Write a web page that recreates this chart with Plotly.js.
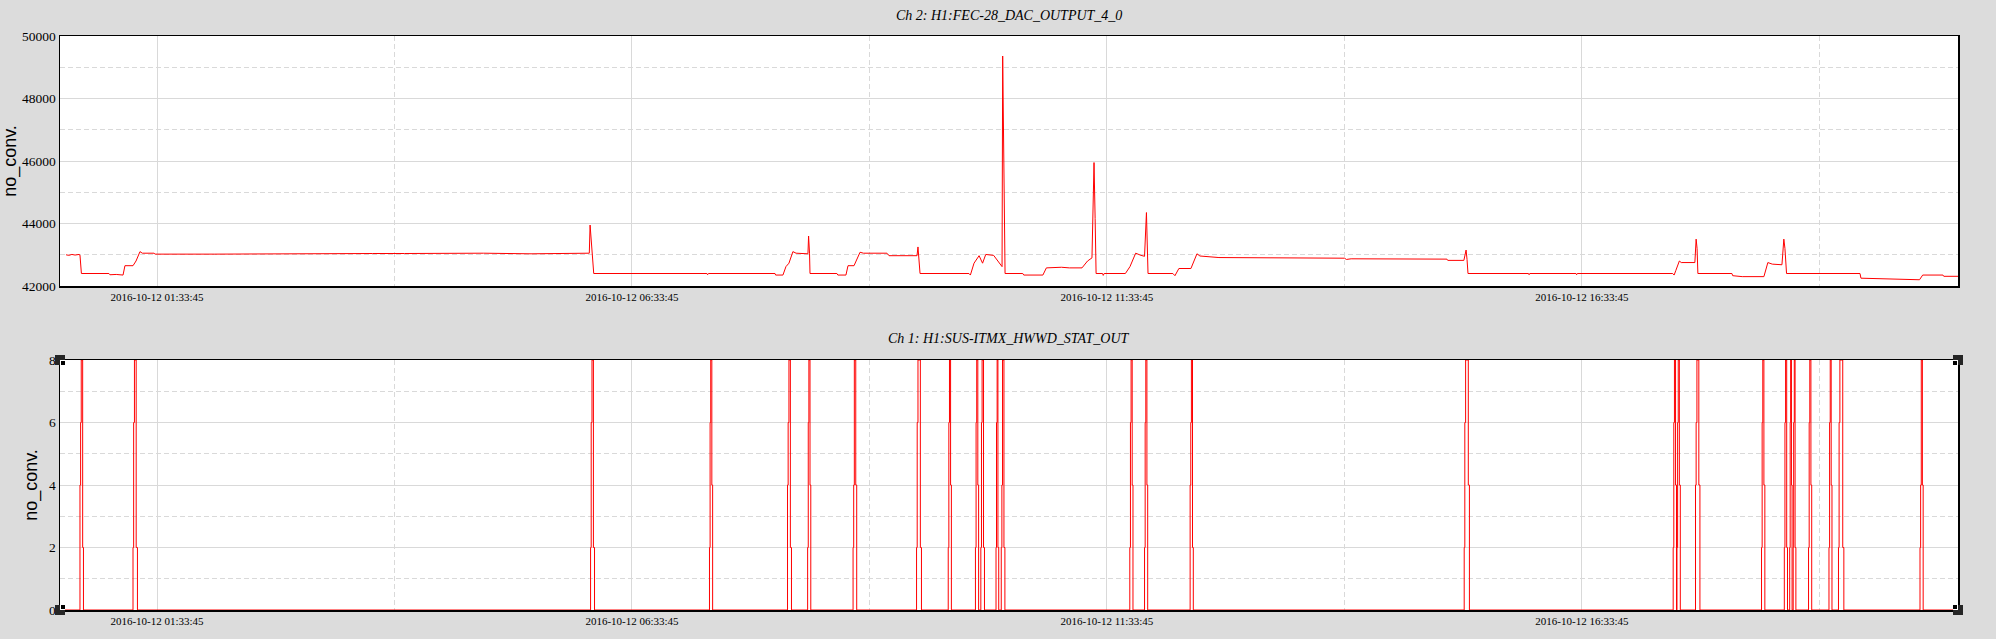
<!DOCTYPE html>
<html>
<head>
<meta charset="utf-8">
<script src="https://cdn.plot.ly/plotly-3.0.1.min.js"></script>
<style>
  html,body{margin:0;padding:0;background:#dcdcdc;}
  #chart{width:1996px;height:639px;}
</style>
</head>
<body>
<div id="chart"></div>
<script>
// ---- data (time as minutes after 2016-10-12 00:00:00) ----
const DAY = '2016-10-12';

const dacTitle = 'Ch 2: H1:FEC-28_DAC_OUTPUT_4_0';
const statTitle = 'Ch 1: H1:SUS-ITMX_HWWD_STAT_OUT';
const yUnit = 'no_conv.';

const dac_t = [36.3, 38.0, 40.0, 42.0, 44.5, 45.1, 46.0, 63.4, 64.0, 68.0, 72.3, 73.5, 78.6, 80.5, 83.0, 84.5, 91.9, 92.5,
  130, 160, 175, 200, 230, 250, 280, 300, 330, 364.1, 366.8, 367.3, 368.0, 368.6, 369.6,
  441.1, 441.5, 442.0, 484.1, 484.5, 489.1, 491.0, 492.9, 495.4, 497.4, 504.9, 505.3, 505.9, 506.2,
  523.2, 523.8, 528.9, 530.2, 534.0, 537.8, 540.0, 554.8, 556.1, 573.8, 574.4, 575.0, 575.7,
  606.6, 607.5, 609.8, 613.0, 615.2, 617.2, 622.2, 626.2, 627.5, 627.9, 628.4, 628.9, 629.4,
  640.6, 641.2, 653.3, 655.5, 665.0, 670.0, 678.0, 681.5, 684.3, 685.1, 685.6, 686.3, 686.9,
  691.0, 691.4, 692.0, 705.4, 708.3, 711.9, 715.3, 717.5, 718.7, 719.2, 719.7,
  735.4, 736.7, 739.2, 746.8, 750.6, 752.5, 764.5, 800.0, 843.8, 845.0, 848.0, 908.5, 909.0, 919.2,
  920.2, 920.6, 921.2, 921.8, 960.0, 960.4, 960.8, 990.0, 990.4, 990.8,
  1051.1, 1052.0, 1053.1, 1055.3, 1056.5, 1065.1, 1065.9, 1066.5, 1067.0,
  1088.5, 1089.0, 1095.0, 1108.7, 1111.2, 1114.0, 1120.1, 1121.3, 1122.0, 1123.0,
  1169.4, 1170.0, 1190.0, 1200.0, 1207.0, 1209.0, 1221.8, 1222.3, 1231.3];

const dac_v = [43000, 42980, 43010, 42990, 43010, 42990, 42400, 42400, 42360, 42370, 42350, 42650, 42650, 42800, 43100, 43050, 43050, 43020,
  43020, 43030, 43040, 43030, 43040, 43040, 43050, 43050, 43030, 43050, 43050, 43950, 43400, 42950, 42400,
  42400, 42360, 42400, 42400, 42350, 42350, 42620, 42730, 43100, 43050, 43030, 43600, 43050, 42400,
  42400, 42350, 42350, 42650, 42650, 43080, 43050, 43050, 42970, 42970, 43250, 42800, 42400,
  42400, 42350, 42730, 42970, 42730, 43010, 42980, 42730, 42620, 49360, 47580, 44170, 42400,
  42400, 42350, 42350, 42580, 42600, 42580, 42580, 42800, 42900, 45180, 45950, 44160, 42400,
  42400, 42340, 42400, 42400, 42620, 43050, 42980, 42950, 44350, 43370, 42400,
  42400, 42330, 42560, 42560, 43030, 42960, 42910, 42900, 42890, 42850, 42870, 42860, 42820, 42820,
  43000, 43150, 42850, 42400, 42400, 42360, 42400, 42400, 42360, 42400,
  42400, 42350, 42500, 42800, 42750, 42750, 43500, 43200, 42400,
  42400, 42330, 42300, 42300, 42750, 42700, 42680, 43500, 43200, 42400,
  42400, 42250, 42230, 42200, 42200, 42350, 42350, 42310, 42310];

const stat_t = [32.5,
  45.1, 45.5, 45.9, 46.8, 47.3,
  78.6, 79.0, 79.5, 80.6, 81.4,
  367.6, 368.0, 368.5, 369.4, 370.1,
  442.7, 443.1, 443.5, 444.2, 444.7,
  492.0, 492.4, 492.9, 493.8, 494.5,
  504.7, 505.1, 505.5, 506.2, 506.7,
  533.4, 533.8, 534.2, 535.1, 535.7,
  573.5, 573.9, 574.4, 575.9, 576.6,
  593.5, 593.9, 594.3, 595.0, 595.5,
  610.7, 611.1, 611.5, 612.2, 612.7,
  614.1, 614.5, 614.9, 615.8, 616.4,
  623.7, 624.0, 624.4, 624.9, 625.4,
  627.0, 627.4, 627.8, 628.7, 629.3,
  708.2, 708.6, 709.0, 709.7, 710.2,
  717.5, 717.9, 718.3, 719.0, 719.5,
  746.3, 746.7, 747.1, 747.8, 748.3,
  919.4, 919.8, 920.3, 922.0, 922.7,
  1051.4, 1051.8, 1052.2, 1052.9, 1053.5,
  1053.8, 1054.2, 1054.6, 1055.3, 1055.9,
  1065.5, 1065.9, 1066.4, 1067.6, 1068.3,
  1107.2, 1107.6, 1108.0, 1108.7, 1109.3,
  1121.6, 1122.0, 1122.4, 1123.1, 1123.6,
  1125.0, 1125.3, 1125.6, 1126.1, 1126.5,
  1127.2, 1127.5, 1127.9, 1128.4, 1128.9,
  1136.9, 1137.3, 1137.7, 1138.4, 1138.9,
  1149.8, 1150.2, 1150.6, 1151.2, 1151.7,
  1155.8, 1156.2, 1156.7, 1158.5, 1159.2,
  1207.3, 1207.7, 1208.1, 1208.8, 1209.3,
  1231.3];

const stat_v = [0,
  4, 6, 8, 2, 0,
  2, 6, 8, 2, 0,
  2, 6, 8, 2, 0,
  2, 6, 8, 4, 0,
  4, 6, 8, 2, 0,
  2, 6, 8, 4, 0,
  2, 4, 8, 4, 0,
  2, 6, 8, 2, 0,
  2, 6, 8, 4, 0,
  2, 6, 8, 4, 0,
  2, 6, 8, 2, 0,
  2, 6, 8, 2, 0,
  2, 4, 8, 2, 0,
  2, 6, 8, 4, 0,
  2, 6, 8, 4, 0,
  4, 6, 8, 2, 0,
  2, 6, 8, 4, 0,
  2, 6, 8, 4, 0,
  2, 6, 8, 4, 0,
  4, 6, 8, 4, 0,
  2, 6, 8, 4, 0,
  2, 6, 8, 2, 0,
  2, 6, 8, 4, 0,
  2, 6, 8, 2, 0,
  2, 6, 8, 4, 0,
  2, 6, 8, 4, 0,
  2, 6, 8, 2, 0,
  2, 4, 8, 4, 0,
  0];

const xRangeMin = [32.48, 1231.3];
const xTickStart = '2016-10-12 01:33:45';

// ---- helpers ----
function pad(n){ return (n < 10 ? '0' : '') + n; }
function toTime(m){
  const s = Math.round(m * 60);
  const hh = Math.floor(s / 3600), mm = Math.floor((s % 3600) / 60), ss = s % 60;
  return DAY + ' ' + pad(hh) + ':' + pad(mm) + ':' + pad(ss);
}

const W = 1996, H = 639;
const plotL = 60, plotR = 1958;
const xDom = [plotL / W, plotR / W];
const topDom = [(H - 286) / H, (H - 36) / H];
const botDom = [(H - 610) / H, (H - 360) / H];

const gridCol = '#d9d9d9';
const serif = 'Liberation Serif, Times New Roman, serif';
const sans = 'Liberation Sans, Arial, sans-serif';

function xAxis(anchor){
  return {
    type: 'date', domain: xDom, anchor: anchor,
    range: [toTime(xRangeMin[0]), toTime(xRangeMin[1])],
    tick0: xTickStart, dtick: 5 * 3600 * 1000,
    tickformat: '%Y-%m-%d %H:%M:%S',
    tickfont: {family: serif, size: 11, color: '#000'},
    showgrid: true, gridcolor: gridCol, gridwidth: 1,
    minor: {tick0: xTickStart, dtick: 2.5 * 3600 * 1000, showgrid: true, gridcolor: gridCol, griddash: '5px,3px', gridwidth: 1},
    showline: true, mirror: true, linecolor: '#000', linewidth: 1.5,
    ticks: '', zeroline: false, fixedrange: true
  };
}
function yAxis(anchor, dom, range, dtick){
  return {
    domain: dom, anchor: anchor, range: range, dtick: dtick, tick0: 0,
    tickformat: 'd',
    tickfont: {family: serif, size: 13.5, color: '#000'},
    showgrid: true, gridcolor: gridCol, gridwidth: 1,
    minor: {dtick: dtick / 2, showgrid: true, gridcolor: gridCol, griddash: '5px,3px', gridwidth: 1},
    showline: true, mirror: true, linecolor: '#000', linewidth: 1.5,
    ticks: '', zeroline: false, fixedrange: true,
    title: {text: yUnit, font: {family: sans, size: 18, color: '#000'}, standoff: 6}
  };
}

const traces = [
  {x: dac_t.map(toTime), y: dac_v, xaxis: 'x', yaxis: 'y', type: 'scatter', mode: 'lines',
   line: {color: '#ff0000', width: 1}, hoverinfo: 'skip'},
  {x: stat_t.map(toTime), y: stat_v, xaxis: 'x2', yaxis: 'y2', type: 'scatter', mode: 'lines',
   line: {color: '#ff0000', width: 1, shape: 'hv'}, hoverinfo: 'skip'}
];

const shapes = [];
[[0,0],[1,0],[0,1],[1,1]].forEach(function(c){
  const cx = c[0], cy = c[1];
  const sx = cx === 0 ? 1 : -1, sy = cy === 0 ? 1 : -1;
  const base = {type: 'rect', xref: 'x2 domain', yref: 'y2 domain', xsizemode: 'pixel', ysizemode: 'pixel',
                xanchor: cx, yanchor: cy, layer: 'above', line: {width: 0}};
  shapes.push(Object.assign({}, base, {x0: -5, x1: 5, y0: -5, y1: 5, fillcolor: '#262626'}));
  shapes.push(Object.assign({}, base, {x0: 0, x1: 5 * sx, y0: 0, y1: 5 * sy, fillcolor: '#ffffff'}));
  shapes.push(Object.assign({}, base, {x0: 1 * sx, x1: 5 * sx, y0: 1 * sy, y1: 5 * sy, fillcolor: '#000000'}));
});

const layout = {
  width: W, height: H,
  paper_bgcolor: '#dcdcdc', plot_bgcolor: '#ffffff',
  margin: {l: 0, r: 0, t: 0, b: 0, pad: 0},
  showlegend: false,
  xaxis: xAxis('y'),
  yaxis: yAxis('x', topDom, [42000, 50000], 2000),
  xaxis2: xAxis('y2'),
  yaxis2: yAxis('x2', botDom, [0, 8], 2),
  shapes: shapes,
  annotations: [
    {text: dacTitle, xref: 'x domain', yref: 'paper', x: 0.5, y: (H - 15) / H, xanchor: 'center', yanchor: 'middle',
     showarrow: false, font: {family: serif, size: 14, color: '#000', style: 'italic'}},
    {text: statTitle, xref: 'x2 domain', yref: 'paper', x: 0.5, y: (H - 338) / H, xanchor: 'center', yanchor: 'middle',
     showarrow: false, font: {family: serif, size: 14, color: '#000', style: 'italic'}}
  ]
};

Plotly.newPlot('chart', traces, layout, {staticPlot: true, displayModeBar: false});
</script>
</body>
</html>
